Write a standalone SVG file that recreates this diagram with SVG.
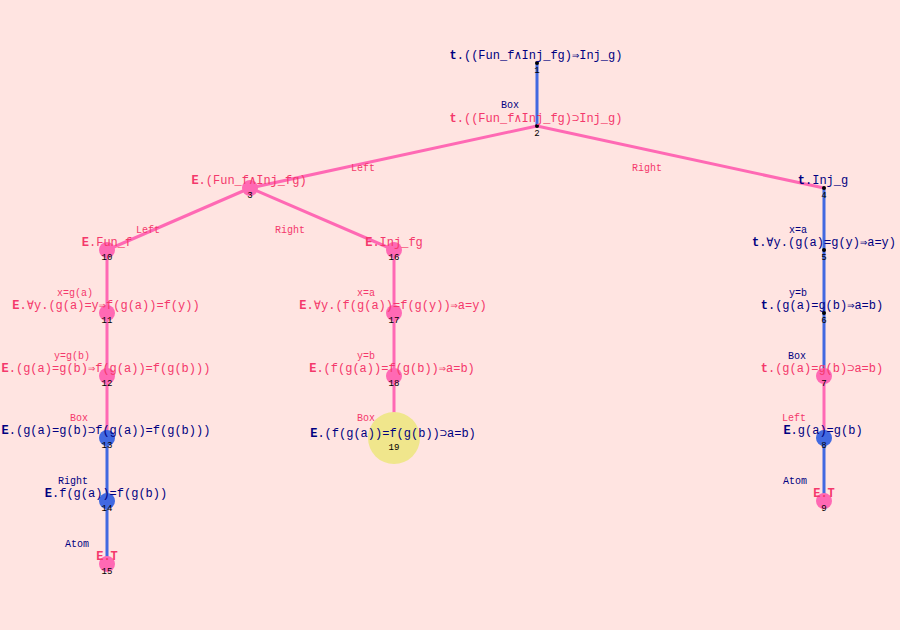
<svg xmlns="http://www.w3.org/2000/svg" width="900" height="630" viewBox="0 0 900 630">
<style>
.e{stroke-width:3;fill:none}
.ep{stroke:#FF69B4}
.eb{stroke:#4169E1}
.t{font-family:"Liberation Mono","DejaVu Sans Mono",monospace;font-size:12px;text-anchor:middle}
.l{font-family:"Liberation Mono","DejaVu Sans Mono",monospace;font-size:10px;text-anchor:middle}
.n{font-family:"Liberation Mono","DejaVu Sans Mono",monospace;font-size:9px;text-anchor:middle;fill:#000}
.tp{fill:#F4386B}
.tb{fill:#000080}
.b{font-weight:bold}
.cp{fill:#FF69B4}
.cb{fill:#4169E1}
.cy{fill:#F0E68C}
.d{fill:#000}
</style>
<rect width="900" height="630" fill="#FFE4E1"/>
<g id="edges">
<line class="e eb" x1="537" y1="63" x2="537" y2="126"/>
<line class="e ep" x1="537" y1="126" x2="250" y2="188"/>
<line class="e ep" x1="537" y1="126" x2="824" y2="188"/>
<line class="e ep" x1="250" y1="188" x2="107" y2="250"/>
<line class="e ep" x1="250" y1="188" x2="394" y2="250"/>
<line class="e ep" x1="107" y1="250" x2="107" y2="313"/>
<line class="e ep" x1="107" y1="313" x2="107" y2="376"/>
<line class="e ep" x1="107" y1="376" x2="107" y2="438"/>
<line class="e eb" x1="107" y1="438" x2="107" y2="501"/>
<line class="e eb" x1="107" y1="501" x2="107" y2="564"/>
<line class="e ep" x1="394" y1="250" x2="394" y2="313"/>
<line class="e ep" x1="394" y1="313" x2="394" y2="376"/>
<line class="e ep" x1="394" y1="376" x2="394" y2="438"/>
<line class="e eb" x1="824" y1="188" x2="824" y2="250"/>
<line class="e eb" x1="824" y1="250" x2="824" y2="313"/>
<line class="e eb" x1="824" y1="313" x2="824" y2="376"/>
<line class="e ep" x1="824" y1="376" x2="824" y2="438"/>
<line class="e eb" x1="824" y1="438" x2="824" y2="501"/>
<text class="l tb" x="510" y="108">Box</text>
<text class="l tp" x="363" y="171">Left</text>
<text class="l tp" x="647" y="171">Right</text>
<text class="l tp" x="148" y="233">Left</text>
<text class="l tp" x="290" y="233">Right</text>
<text class="l tp" x="75" y="296">x=g(a)</text>
<text class="l tp" x="72" y="359">y=g(b)</text>
<text class="l tp" x="79" y="421">Box</text>
<text class="l tb" x="73" y="484">Right</text>
<text class="l tb" x="77" y="547">Atom</text>
<text class="l tp" x="366" y="296">x=a</text>
<text class="l tp" x="366" y="359">y=b</text>
<text class="l tp" x="366" y="421">Box</text>
<text class="l tb" x="798" y="233">x=a</text>
<text class="l tb" x="798" y="296">y=b</text>
<text class="l tb" x="797" y="359">Box</text>
<text class="l tp" x="794" y="421">Left</text>
<text class="l tb" x="795" y="484">Atom</text>
</g>
<g id="node1"><circle class="d" cx="537" cy="63" r="2"/><text class="t tb" x="536" y="59"><tspan class="b">t</tspan>.((Fun_f∧Inj_fg)⇒Inj_g)</text><text class="n" x="537" y="73">1</text></g>
<g id="node2"><circle class="d" cx="537" cy="126" r="2"/><text class="t tp" x="536" y="122"><tspan class="b">t</tspan>.((Fun_f∧Inj_fg)⊃Inj_g)</text><text class="n" x="537" y="136">2</text></g>
<g id="node3"><circle class="cp" cx="250" cy="188" r="8"/><text class="t tp" x="249" y="184"><tspan class="b">E</tspan>.(Fun_f∧Inj_fg)</text><text class="n" x="250" y="198">3</text></g>
<g id="node4"><circle class="d" cx="824" cy="188" r="2"/><text class="t tb" x="823" y="184"><tspan class="b">t</tspan>.Inj_g</text><text class="n" x="824" y="198">4</text></g>
<g id="node5"><circle class="d" cx="824" cy="250" r="2"/><text class="t tb" x="824" y="246"><tspan class="b">t</tspan>.∀y.(g(a)=g(y)⇒a=y)</text><text class="n" x="824" y="260">5</text></g>
<g id="node6"><circle class="d" cx="824" cy="313" r="2"/><text class="t tb" x="822" y="309"><tspan class="b">t</tspan>.(g(a)=g(b)⇒a=b)</text><text class="n" x="824" y="323">6</text></g>
<g id="node7"><circle class="cp" cx="824" cy="376" r="8"/><text class="t tp" x="822" y="372"><tspan class="b">t</tspan>.(g(a)=g(b)⊃a=b)</text><text class="n" x="824" y="386">7</text></g>
<g id="node8"><circle class="cb" cx="824" cy="438" r="8"/><text class="t tb" x="823" y="434"><tspan class="b">E</tspan>.g(a)=g(b)</text><text class="n" x="824" y="448">8</text></g>
<g id="node9"><circle class="cp" cx="824" cy="501" r="8"/><text class="t tp b" x="824" y="497">E.T</text><text class="n" x="824" y="511">9</text></g>
<g id="node10"><circle class="cp" cx="107" cy="250" r="8"/><text class="t tp" x="107" y="246"><tspan class="b">E</tspan>.Fun_f</text><text class="n" x="107" y="260">10</text></g>
<g id="node11"><circle class="cp" cx="107" cy="313" r="8"/><text class="t tp" x="106" y="309"><tspan class="b">E</tspan>.∀y.(g(a)=y⇒f(g(a))=f(y))</text><text class="n" x="107" y="323">11</text></g>
<g id="node12"><circle class="cp" cx="107" cy="376" r="8"/><text class="t tp" x="106" y="372"><tspan class="b">E</tspan>.(g(a)=g(b)⇒f(g(a))=f(g(b)))</text><text class="n" x="107" y="386">12</text></g>
<g id="node13"><circle class="cb" cx="107" cy="438" r="8"/><text class="t tb" x="106" y="434"><tspan class="b">E</tspan>.(g(a)=g(b)⊃f(g(a))=f(g(b)))</text><text class="n" x="107" y="448">13</text></g>
<g id="node14"><circle class="cb" cx="107" cy="501" r="8"/><text class="t tb" x="106" y="497"><tspan class="b">E</tspan>.f(g(a))=f(g(b))</text><text class="n" x="107" y="511">14</text></g>
<g id="node15"><circle class="cp" cx="107" cy="564" r="8"/><text class="t tp b" x="107" y="560">E.T</text><text class="n" x="107" y="574">15</text></g>
<g id="node16"><circle class="cp" cx="394" cy="250" r="8"/><text class="t tp" x="394" y="246"><tspan class="b">E</tspan>.Inj_fg</text><text class="n" x="394" y="260">16</text></g>
<g id="node17"><circle class="cp" cx="394" cy="313" r="8"/><text class="t tp" x="393" y="309"><tspan class="b">E</tspan>.∀y.(f(g(a))=f(g(y))⇒a=y)</text><text class="n" x="394" y="323">17</text></g>
<g id="node18"><circle class="cp" cx="394" cy="376" r="8"/><text class="t tp" x="392" y="372"><tspan class="b">E</tspan>.(f(g(a))=f(g(b))⇒a=b)</text><text class="n" x="394" y="386">18</text></g>
<g id="node19"><circle class="cy" cx="394" cy="438" r="26"/><text class="t tb" x="393" y="437"><tspan class="b">E</tspan>.(f(g(a))=f(g(b))⊃a=b)</text><text class="n" x="394" y="450">19</text></g>
</svg>
